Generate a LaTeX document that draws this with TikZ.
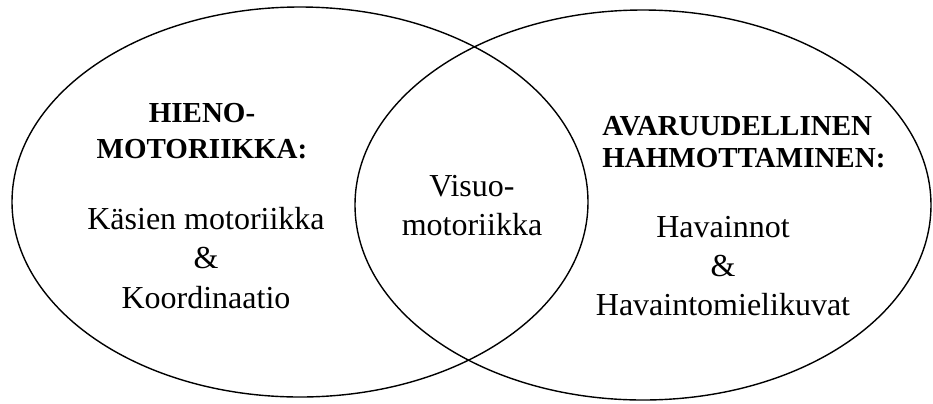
\documentclass[tikz,border=0pt]{standalone}
\usepackage{fontspec}
\setmainfont{Liberation Serif}
\usetikzlibrary{shapes.geometric}

\begin{document}
\begin{tikzpicture}[x=0.5pt,y=-0.5pt,
                area/.style={ellipse,draw,line width=0.7pt,minimum width=288pt,minimum height=195pt,inner sep=0pt},
                head/.style={font=\fontsize{14.5}{17.5}\selectfont\bfseries,inner sep=0pt},
                body/.style={font=\fontsize{16}{19}\selectfont,align=center,anchor=base,inner sep=0pt}]

  \useasboundingbox (0,0) rectangle (933,403);

  \node[area] (fine) at (300,202) {};
  \node[area] (spatial) at (643,205) {};

  % base of a node with several lines is its last line
  \node[head,align=center,anchor=base] (finehead) at (202,158) {HIENO-\\[0.5pt]MOTORIIKKA:};
  \node[body] (finebody) at (206,308) {Käsien motoriikka\\[0.75pt]\&\\[0.75pt]Koordinaatio};

  \node[body] (visuo) at (472,235) {Visuo-\\[0.5pt]motoriikka};

  \node[head,align=left,anchor=base west] (spatialhead) at (602,167) {AVARUUDELLINEN\\[-1.5pt]HAHMOTTAMINEN:};
  \node[body] (spatialbody) at (723,315) {Havainnot\\[0.5pt]\&\\[0.5pt]Havaintomielikuvat};
\end{tikzpicture}
\end{document}
